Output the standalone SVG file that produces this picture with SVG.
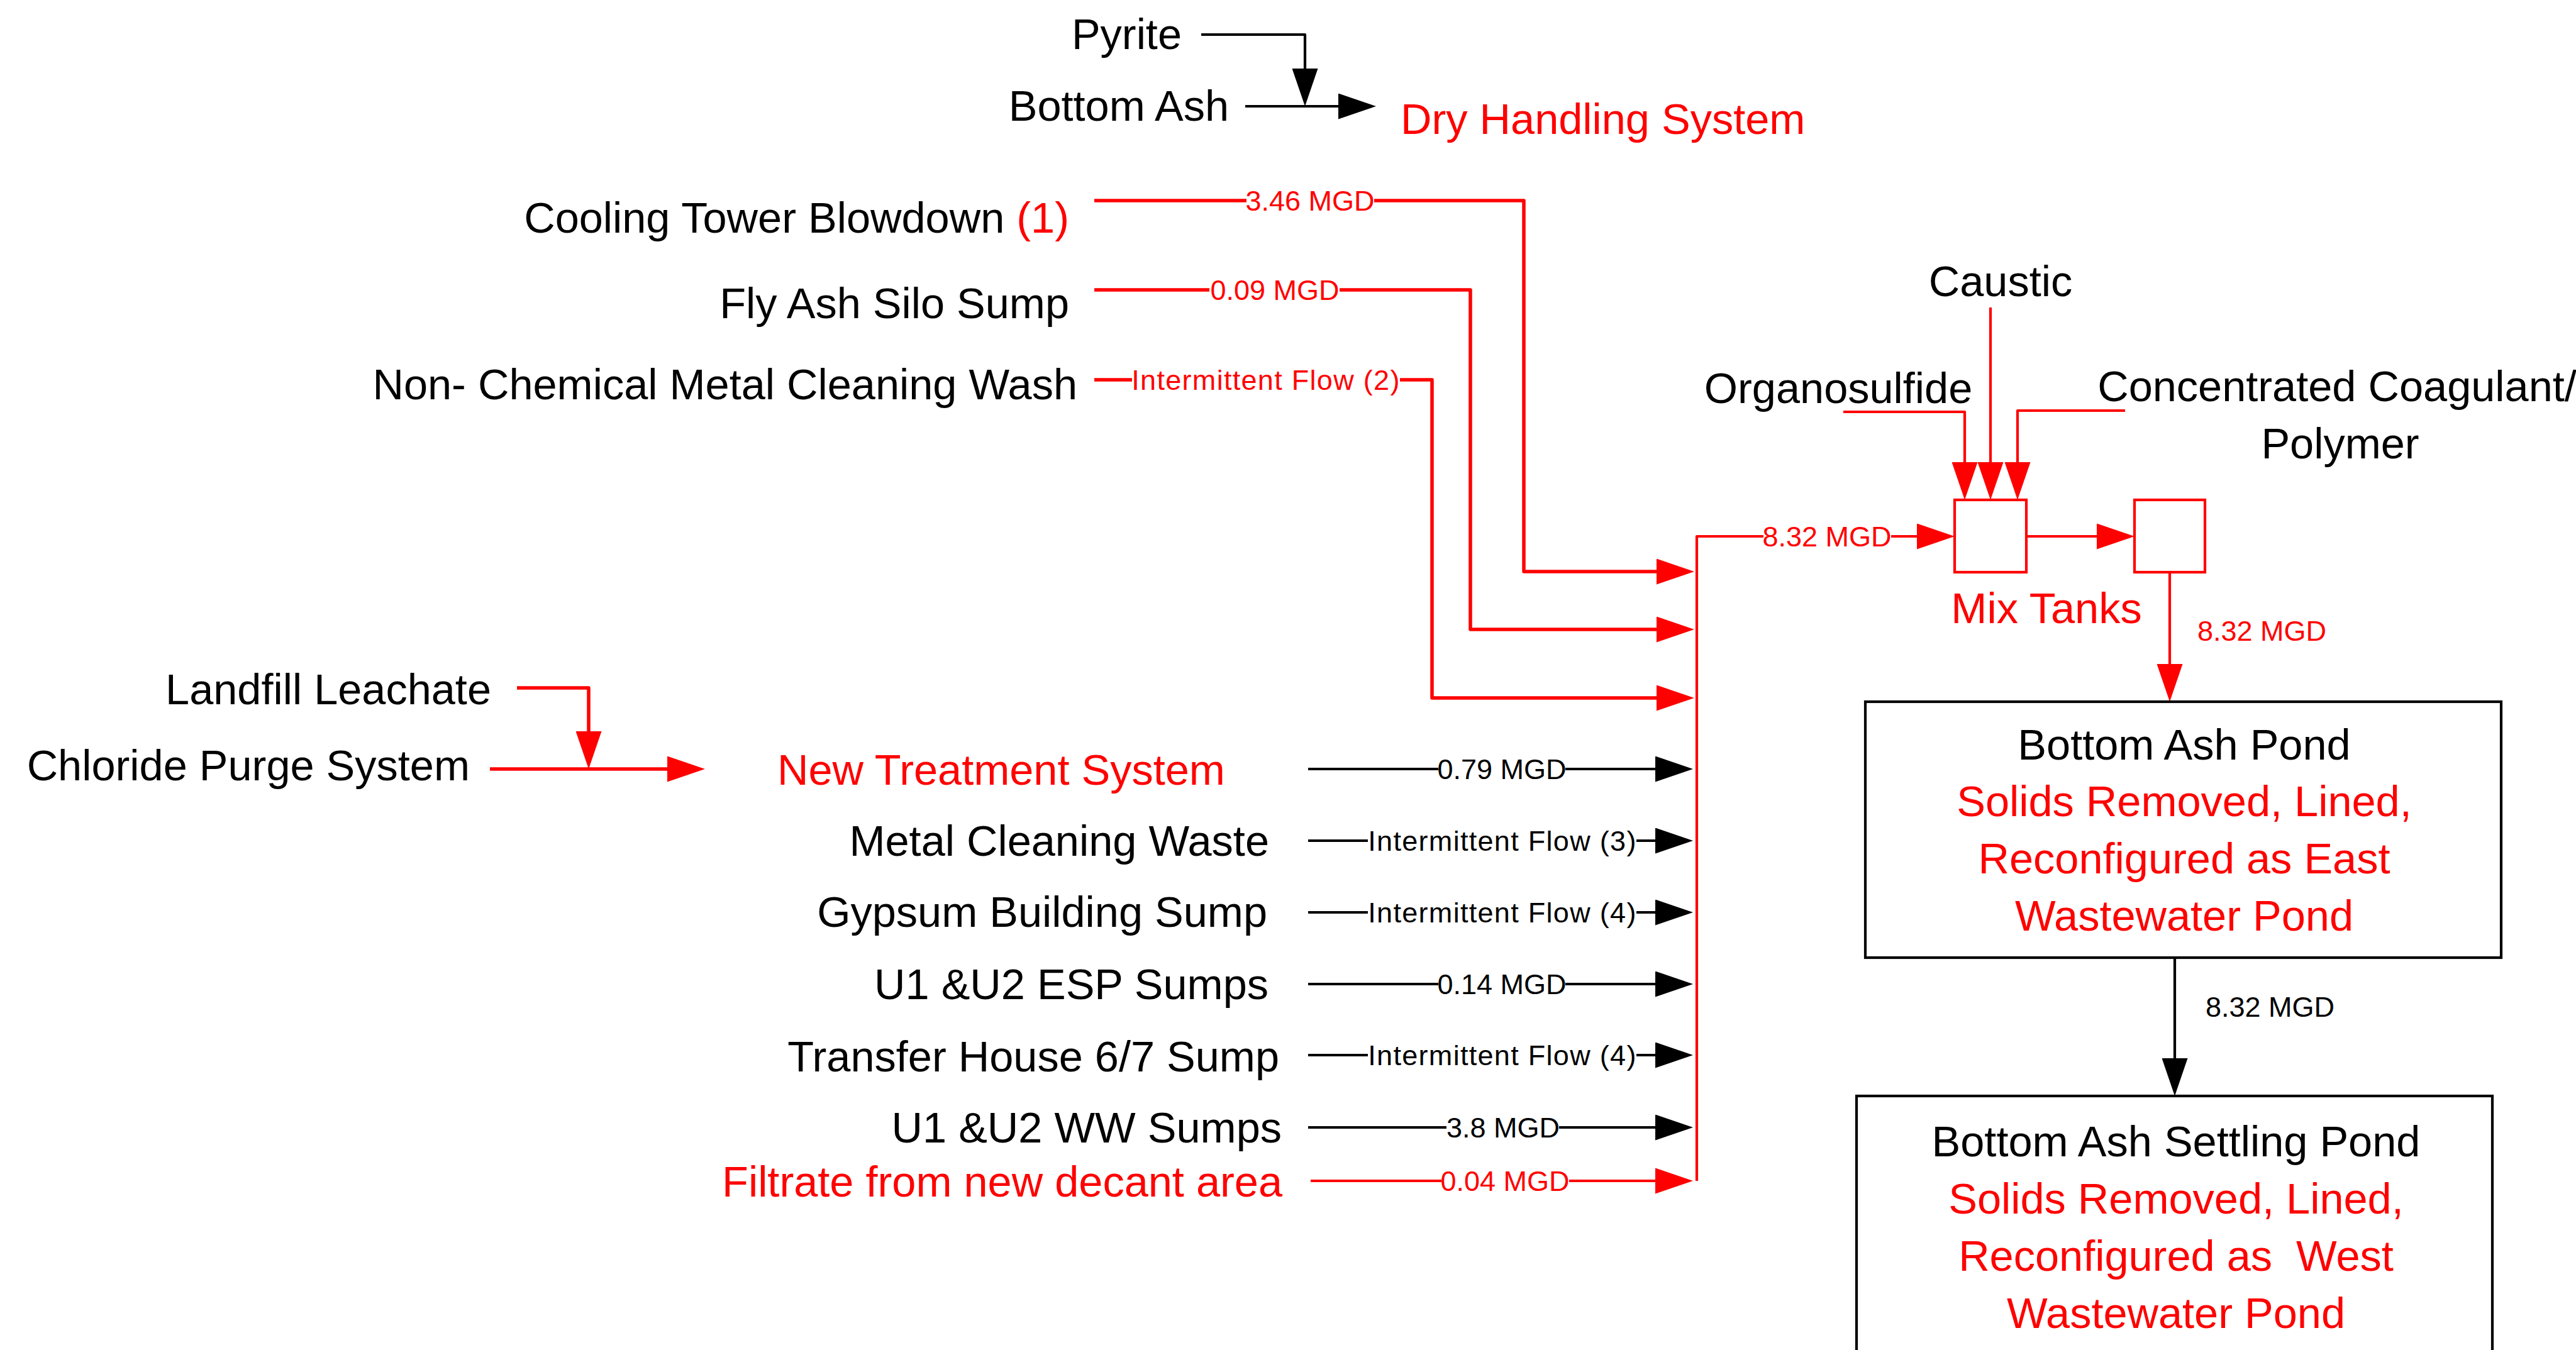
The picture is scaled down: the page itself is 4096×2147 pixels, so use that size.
<svg xmlns="http://www.w3.org/2000/svg" width="4096" height="2147" viewBox="0 0 4096 2147">
<style>
text{font-family:"Liberation Sans",Arial,sans-serif;}
.m{font-size:68.5px;}
.s{font-size:45px;}
.k{fill:#000;}
.r{fill:#FF0000;}
.e{text-anchor:end;}
.c{text-anchor:middle;}
.lk{fill:none;stroke:#000;stroke-width:4.2;stroke-linejoin:round;}
.lr{fill:none;stroke:#FF0000;stroke-width:4.2;stroke-linejoin:round;}
.lr5{fill:none;stroke:#FF0000;stroke-width:5.5;stroke-linejoin:round;}
.ak{marker-end:url(#ak);}
.ar{marker-end:url(#ar);}
.bg{fill:#fff;}
.it{letter-spacing:1.3px;}
.box{fill:#fff;stroke:#000;stroke-width:4.2;}
.tank{fill:#fff;stroke:#FF0000;stroke-width:4.2;}
</style>
<defs>
<marker id="ak" markerUnits="userSpaceOnUse" markerWidth="60" markerHeight="41" viewBox="0 0 60 41" refX="50" refY="20.5" orient="auto"><path d="M0,0 L60,20.5 L0,41 Z" fill="#000"/></marker>
<marker id="ar" markerUnits="userSpaceOnUse" markerWidth="60" markerHeight="41" viewBox="0 0 60 41" refX="50" refY="20.5" orient="auto"><path d="M0,0 L60,20.5 L0,41 Z" fill="#FF0000"/></marker>
</defs>
<rect width="4096" height="2147" fill="#fff"/>

<g id="connectors">
<path class="lk ak" d="M1910,55 H2075 V159"/>
<path class="lk ak" d="M1980,169 H2178"/>
<path class="lr5 ar" d="M1740,319 H2423 V909 H2684"/>
<path class="lr5 ar" d="M1740,461 H2338 V1001 H2684"/>
<path class="lr5 ar" d="M1740,604 H2277 V1110 H2684"/>
<path class="lr ar" d="M2698,1878 V853 H3098"/>
<path class="lr ar" d="M3222,853 H3384"/>
<path class="lr ar" d="M3450,910 V1106"/>
<path class="lr ar" d="M3165,489 V785"/>
<path class="lr ar" d="M2931,655 H3124 V785"/>
<path class="lr ar" d="M3379,653 H3208 V785"/>
<path class="lr5 ar" d="M822,1094 H936 V1213"/>
<path class="lr5 ar" d="M779,1223 H1111"/>
<path class="lk ak" d="M2080,1223 H2682"/>
<path class="lk ak" d="M2080,1337 H2682"/>
<path class="lk ak" d="M2080,1451 H2682"/>
<path class="lk ak" d="M2080,1565 H2682"/>
<path class="lk ak" d="M2080,1678 H2682"/>
<path class="lk ak" d="M2080,1793 H2682"/>
<path class="lr ar" d="M2084,1878 H2682"/>
<path class="lk ak" d="M3458,1523 V1733"/>

<rect class="bg" x="1982" y="298" width="203" height="42"/>
<text class="s r c" x="2083" y="335">3.46 MGD</text>
<rect class="bg" x="1923" y="440" width="207" height="42"/>
<text class="s r c" x="2027" y="477">0.09 MGD</text>
<rect class="bg" x="1800" y="583" width="426" height="42"/>
<text class="s r c it" x="2013" y="620">Intermittent Flow (2)</text>
<rect class="bg" x="2804" y="832" width="203" height="42"/>
<text class="s r c" x="2905" y="869">8.32 MGD</text>
<text class="s r" x="3494" y="1019">8.32 MGD</text>
<text class="s k" x="3507" y="1617">8.32 MGD</text>

<rect class="bg" x="2287" y="1202" width="202" height="42"/>
<text class="s k c" x="2388" y="1239">0.79 MGD</text>
<rect class="bg" x="2175" y="1316" width="427" height="42"/>
<text class="s k c it" x="2389" y="1353">Intermittent Flow (3)</text>
<rect class="bg" x="2175" y="1430" width="427" height="42"/>
<text class="s k c it" x="2389" y="1467">Intermittent Flow (4)</text>
<rect class="bg" x="2287" y="1544" width="202" height="42"/>
<text class="s k c" x="2388" y="1581">0.14 MGD</text>
<rect class="bg" x="2175" y="1657" width="427" height="42"/>
<text class="s k c it" x="2389" y="1694">Intermittent Flow (4)</text>
<rect class="bg" x="2300" y="1772" width="179" height="42"/>
<text class="s k c" x="2390" y="1809">3.8 MGD</text>
<rect class="bg" x="2292" y="1857" width="203" height="42"/>
<text class="s r c" x="2393" y="1894">0.04 MGD</text>
</g>

<g id="n-pyrite"><text class="m k e" x="1879" y="78">Pyrite</text></g>
<g id="n-bottom-ash"><text class="m k e" x="1954" y="192">Bottom Ash</text></g>
<g id="n-dry-handling"><text class="m r" x="2227" y="213">Dry Handling System</text></g>

<g id="n-cooling-tower"><text class="m k e" x="1700" y="370">Cooling Tower Blowdown <tspan class="r">(1)</tspan></text></g>
<g id="n-fly-ash"><text class="m k e" x="1700" y="506">Fly Ash Silo Sump</text></g>
<g id="n-non-chemical"><text class="m k e" x="1713" y="635">Non- Chemical Metal Cleaning Wash</text></g>

<g id="n-landfill"><text class="m k e" x="781" y="1120">Landfill Leachate</text></g>
<g id="n-chloride"><text class="m k e" x="747" y="1241">Chloride Purge System</text></g>
<g id="n-new-treatment"><text class="m r" x="1236" y="1248">New Treatment System</text></g>
<g id="n-metal-cleaning"><text class="m k e" x="2018" y="1361">Metal Cleaning Waste</text></g>
<g id="n-gypsum"><text class="m k e" x="2015" y="1474">Gypsum Building Sump</text></g>
<g id="n-esp"><text class="m k e" x="2017" y="1589">U1 &amp;U2 ESP Sumps</text></g>
<g id="n-transfer"><text class="m k e" x="2034" y="1704">Transfer House 6/7 Sump</text></g>
<g id="n-ww"><text class="m k e" x="2038" y="1817">U1 &amp;U2 WW Sumps</text></g>
<g id="n-filtrate"><text class="m r e" x="2039" y="1903">Filtrate from new decant area</text></g>

<g id="n-caustic"><text class="m k c" x="3181" y="471">Caustic</text></g>
<g id="n-organosulfide"><text class="m k c" x="2923" y="641">Organosulfide</text></g>
<g id="n-coagulant"><text class="m k c" x="3716" y="638">Concentrated Coagulant/</text><text class="m k c" x="3721" y="729">Polymer</text></g>

<g id="n-mix-tanks">
<rect class="tank" x="3108" y="795" width="114" height="115"/>
<rect class="tank" x="3394" y="795" width="112" height="115"/>
<text class="m r c" x="3254" y="991">Mix Tanks</text>
</g>

<g id="n-bottom-ash-pond">
<rect class="box" x="2966" y="1116" width="1011" height="407"/>
<text class="m k c" x="3473" y="1208">Bottom Ash Pond</text>
<text class="m r c" x="3473" y="1298">Solids Removed, Lined,</text>
<text class="m r c" x="3473" y="1389">Reconfigured as East</text>
<text class="m r c" x="3473" y="1480">Wastewater Pond</text>
</g>

<g id="n-settling-pond">
<rect class="box" x="2952" y="1743" width="1011" height="460"/>
<text class="m k c" x="3460" y="1839">Bottom Ash Settling Pond</text>
<text class="m r c" x="3460" y="1930">Solids Removed, Lined,</text>
<text class="m r c" x="3460" y="2021">Reconfigured as&#160; West</text>
<text class="m r c" x="3460" y="2112">Wastewater Pond</text>
</g>
</svg>
